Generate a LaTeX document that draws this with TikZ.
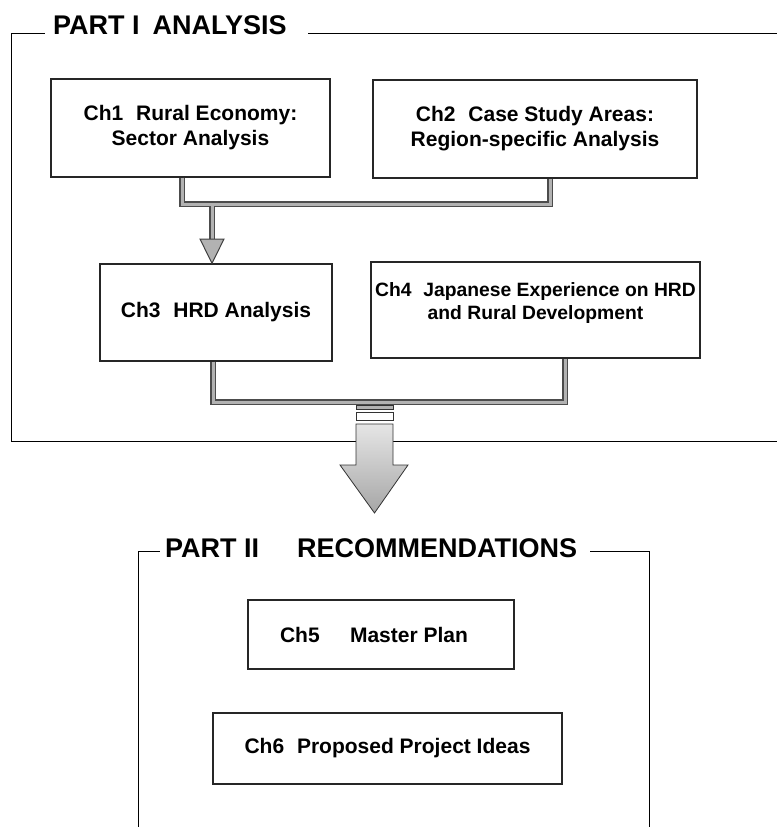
\documentclass[tikz,border=0pt]{standalone}
\usepackage{fontspec}
\setmainfont{Liberation Sans}
\usetikzlibrary{calc}
\begin{document}
\begin{tikzpicture}[x=1pt,y=-1pt,
  box/.style={draw=black!85,line width=1.3pt,fill=white,align=center,font=\fontsize{21}{25}\selectfont\bfseries,inner sep=0pt},
  frame/.style={draw=black,line width=1pt},
  title/.style={anchor=base west,font=\fontsize{27}{31}\selectfont\bfseries,inner sep=0pt},
  connout/.style={draw=black!70,line width=5.5pt},
  connin/.style={draw=gray!60,line width=3pt}]
\useasboundingbox (0,0) rectangle (777,827);
% Part I frame
\node[title] (t1) at (53,34) {PART I\hspace{13pt}ANALYSIS};
\draw[frame] (11,441) -- (11,33) -- (45,33);
\draw[frame] (308,33) -- (777,33);
\draw[frame] (11,441) -- (777,441);
% boxes
\node[box,minimum width=279pt,minimum height=98pt] (ch1) at (190.5,128) {Ch1\,\, Rural Economy:\\Sector Analysis};
\node[box,minimum width=324pt,minimum height=98pt] (ch2) at (535,129) {Ch2\,\, Case Study Areas:\\Region-specific Analysis};
\node[box,minimum width=232pt,minimum height=97pt] (ch3) at (216,312.5) {Ch3\,\, HRD Analysis};
\node[box,minimum width=329pt,minimum height=96pt,font=\fontsize{19.3}{23}\selectfont\bfseries] (ch4) at (535.5,310) {Ch4\,\, Japanese Experience on HRD\\and Rural Development\\[-6pt]};
% connectors top
\coordinate (j1) at (182,204);
\coordinate (j2) at (550,204);
\coordinate (j3) at (212,204);
\coordinate (ah) at (212,239);
\draw[connout] (ch1.south -| j1) -- (j1) -- (j2) -- (ch2.south -| j2);
\draw[connout] (j3) -- (ah);
\draw[connin] (ch1.south -| j1) -- (j1) -- (j2) -- (ch2.south -| j2);
\draw[connin] (j3) -- (ah);
\draw[draw=black!75,line width=1pt,fill=gray!60] ($(ah)+(-12,0)$) -- ($(ah)+(12,0)$) -- (ch3.north -| ah) -- cycle;
% connectors bottom
\coordinate (j4) at (213,402);
\coordinate (j5) at (565,402);
\draw[connout] (ch3.south -| j4) -- (j4) -- (j5) -- (ch4.south -| j5);
\draw[connin] (ch3.south -| j4) -- (j4) -- (j5) -- (ch4.south -| j5);
% big arrow
\coordinate (ba) at (374.5,405);
\draw[draw=black!80,line width=0.8pt,fill=gray!60] ($(ba)+(-18.5,0)$) rectangle ($(ba)+(18.5,4)$);
\draw[draw=black!80,line width=0.8pt,fill=white] ($(ba)+(-18.5,7)$) rectangle ($(ba)+(18.5,15)$);
\draw[draw=black!80,line width=0.8pt,top color=gray!20,bottom color=gray!70]
  ($(ba)+(-18.5,19)$) -- ($(ba)+(18.5,19)$) -- ($(ba)+(18.5,60)$) -- ($(ba)+(33.5,60)$)
  -- ($(ba)+(0,108)$) -- ($(ba)+(-34.5,60)$) -- ($(ba)+(-18.5,60)$) -- cycle;
% Part II frame
\node[title] (t2) at (165,557) {\makebox[132pt][l]{PART II}RECOMMENDATIONS};
\draw[frame] (138,827) -- (138,551) -- (160,551);
\draw[frame] (590,551) -- (649,551) -- (649,827);
\node[box,minimum width=266pt,minimum height=69pt] (ch5) at (381,634.5) {Ch5\quad\, Master Plan\hspace{14pt}};
\node[box,minimum width=349pt,minimum height=71pt] (ch6) at (387.5,748.5) {Ch6\,\, Proposed Project Ideas};
\end{tikzpicture}
\end{document}
